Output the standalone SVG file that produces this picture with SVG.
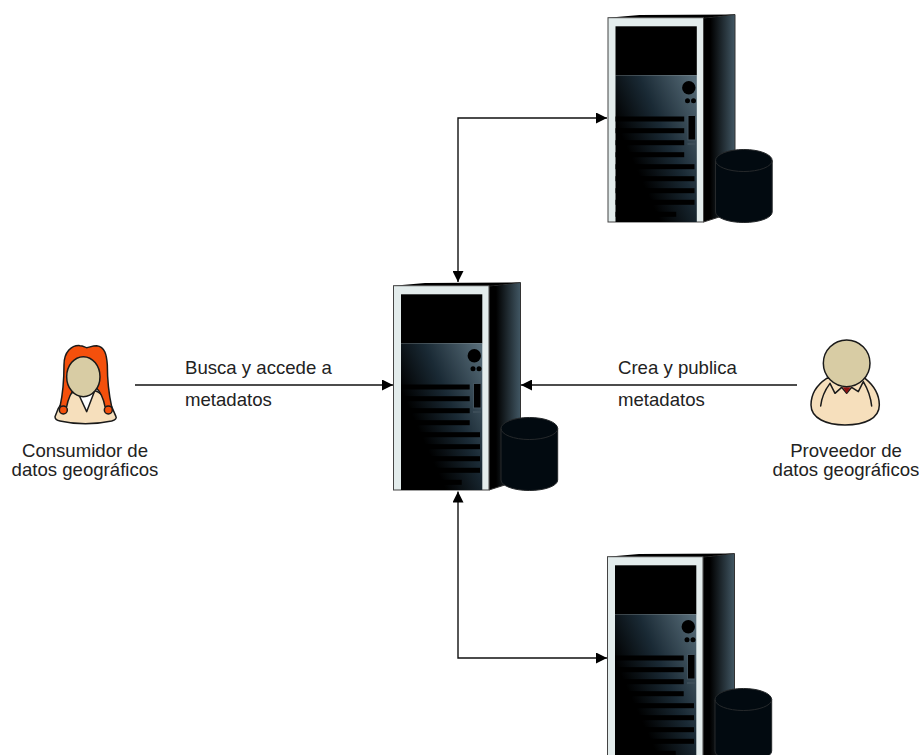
<svg xmlns="http://www.w3.org/2000/svg" width="919" height="755" viewBox="0 0 919 755">
<style>
.lbl{font-family:"Liberation Sans",Arial,sans-serif;font-size:18.6px;fill:#222}
.conn{fill:none;stroke:#111;stroke-width:1.4}
.o{stroke:#1a1a1a;stroke-width:4.5;stroke-linejoin:round;stroke-linecap:round}
</style>
<defs>
<marker id="ah" viewBox="0 0 11 11" refX="11" refY="5.5" markerWidth="11" markerHeight="11" markerUnits="userSpaceOnUse" orient="auto-start-reverse"><path d="M0 0L11 5.500L0 11Z" fill="#000"/></marker>
<linearGradient id="panel" gradientUnits="userSpaceOnUse" x1="416" y1="424" x2="498" y2="387"><stop offset="0" stop-color="#000"/><stop offset=".45" stop-color="#1a2a35"/><stop offset="1" stop-color="#566b77"/></linearGradient>
<linearGradient id="side" gradientUnits="userSpaceOnUse" x1="496" y1="0" x2="521" y2="0"><stop offset="0" stop-color="#000"/><stop offset="1" stop-color="#435966"/></linearGradient>
<g id="server">
<path d="M489 286L520.500 282.500V480L489 490Z" fill="url(#side)" stroke="#333" stroke-width="1"/>
<path d="M393.500 285.700L425 283L520.500 282.500L489 286Z" fill="#000"/>
<rect x="393.500" y="285.700" width="95.500" height="204.300" fill="#e3ecec" stroke="#444" stroke-width="1"/>
<rect x="401" y="294.300" width="81.300" height="49" fill="#000"/>
<rect x="401" y="343.300" width="81.300" height="146.700" fill="url(#panel)"/>
<g fill="#000">
<rect x="401" y="384.500" width="68.700" height="5"/><rect x="401" y="396.200" width="68.700" height="5"/><rect x="401" y="408.200" width="68.700" height="5"/><rect x="401" y="420.200" width="68.700" height="5"/>
<rect x="401" y="432.200" width="79" height="5"/><rect x="401" y="444.200" width="79" height="5"/><rect x="401" y="456.200" width="79" height="5"/><rect x="401" y="467.800" width="79" height="5"/>
<rect x="401" y="479.800" width="60.700" height="5"/>
<circle cx="474.300" cy="355.700" r="6.700"/><circle cx="473" cy="368.700" r="2.500"/><circle cx="479" cy="368.700" r="2.500"/>
<rect x="473.500" y="383.500" width="7.500" height="24.500" stroke="#445560" stroke-width="1"/>
<rect x="473" y="411" width="8" height="2" fill="#3c4d58"/>
</g>
<path d="M501 428.500V480A28.300 10.500 0 0 0 557.700 480V428.500A28.300 11 0 0 0 501 428.500Z" fill="#020a10" stroke="#26292b" stroke-width="1"/>
<path d="M501 428.500A28.300 11 0 0 0 557.700 428.500" fill="none" stroke="#26292b" stroke-width="1"/>
</g>
</defs>
<rect width="919" height="755" fill="#fff"/>
<g id="connectors">
<path class="conn" d="M135 385H393" marker-end="url(#ah)"/>
<path class="conn" d="M797 385H521" marker-end="url(#ah)"/>
<path class="conn" d="M458 282V118H607" marker-start="url(#ah)" marker-end="url(#ah)"/>
<path class="conn" d="M458 491.500V658H607" marker-start="url(#ah)" marker-end="url(#ah)"/>
</g>
<g id="server-top"><use href="#server" x="214.500" y="-268"/></g>
<g id="server-center"><use href="#server"/></g>
<g id="server-bottom"><use href="#server" x="214" y="271"/></g>
<g id="consumer">
<g transform="translate(40 335) scale(.3333)">
<path class="o" d="M55 220L45 245Q45 255 60 258Q135 275 215 258Q232 252 228 245L215 215C200 190 180 170 160 165H110C90 175 70 195 55 220Z" fill="#f6dfbc"/>
<path class="o" d="M110 165L140 230L165 165Z" fill="#fff"/>
<path class="o" d="M60 215C70 170 72 130 72 90C72 50 95 30 120 32C130 32 135 38 140 38C148 38 155 32 170 32C195 35 200 60 202 90C202 130 205 170 215 215L195 215C190 190 180 170 170 160H105C95 170 85 190 80 215Z" fill="#f4500c"/>
<circle class="o" cx="70" cy="225" r="12" fill="#f4500c"/>
<circle class="o" cx="205" cy="225" r="12" fill="#f4500c"/>
<ellipse class="o" cx="130" cy="125" rx="50" ry="60" fill="#d8cca4"/>
</g>
<text class="lbl" x="85" y="456.500" text-anchor="middle">Consumidor de</text>
<text class="lbl" x="85" y="476" text-anchor="middle">datos geográficos</text>
</g>
<g id="provider">
<g transform="translate(800 330) scale(.3333)">
<path class="o" d="M80 145C50 165 33 195 33 225C33 265 80 285 135 285C195 285 238 265 238 225C238 190 220 165 195 145Z" fill="#f6dfbc"/>
<path class="o" d="M62 228C65 200 75 180 90 160M215 228C212 200 205 180 190 155M90 160L105 190L125 172L140 190L155 172L175 185L190 155" fill="none"/>
<path d="M128 172H152L140 190Z" fill="#8c1010"/>
<circle class="o" cx="140" cy="100" r="70" fill="#d8cca4"/>
</g>
<text class="lbl" x="846" y="456.500" text-anchor="middle">Proveedor de</text>
<text class="lbl" x="846" y="476" text-anchor="middle">datos geográficos</text>
</g>
<g id="labels">
<text class="lbl" x="185" y="374">Busca y accede a</text>
<text class="lbl" x="185" y="406">metadatos</text>
<text class="lbl" x="618" y="374">Crea y publica</text>
<text class="lbl" x="618" y="406">metadatos</text>
</g>
</svg>
